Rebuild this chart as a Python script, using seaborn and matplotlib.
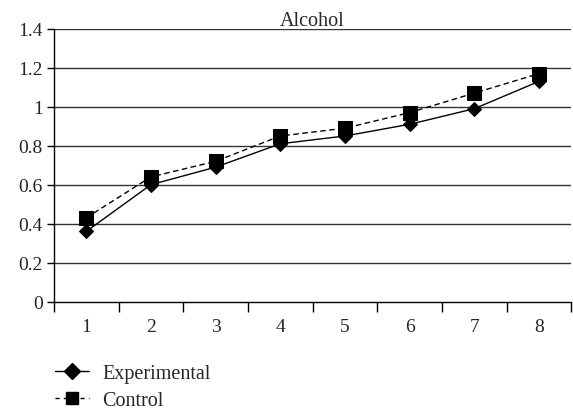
import numpy as np
import pandas as pd
import matplotlib
matplotlib.use('Agg')
import matplotlib.pyplot as plt
import seaborn as sns
from matplotlib.ticker import FixedLocator

# Data
periods = [1, 2, 3, 4, 5, 6, 7, 8]
experimental = [0.36, 0.60, 0.69, 0.81, 0.85, 0.91, 0.99, 1.13]
control = [0.43, 0.64, 0.72, 0.85, 0.89, 0.97, 1.07, 1.17]
series_names = ['Experimental', 'Control']
y_ticks = [0, 0.2, 0.4, 0.6, 0.8, 1, 1.2, 1.4]
y_tick_labels = ['0', '0.2', '0.4', '0.6', '0.8', '1', '1.2', '1.4']

df = pd.DataFrame({
    'period': periods * 2,
    'value': experimental + control,
    'group': [series_names[0]] * len(periods) + [series_names[1]] * len(periods),
})

sns.set_theme(style='white')
plt.rcParams['font.family'] = ['Liberation Serif', 'DejaVu Serif']

fig = plt.figure(figsize=(5.73, 4.14), dpi=100)
ax = fig.add_axes([0.094, 0.269, 0.903, 0.659])

# Grid lines first so the data sits on top
for yv in y_ticks[1:]:
    ax.axhline(yv, color='#333333', lw=1.0, zorder=1)

sns.lineplot(data=df, x='period', y='value', hue='group', style='group',
             palette=['black', 'black'],
             dashes={'Experimental': '', 'Control': (4, 2.5)},
             markers={'Experimental': 'D', 'Control': 's'},
             markersize=9, markeredgecolor='black', lw=1.0,
             ax=ax, legend=False, zorder=3)

for line in ax.get_lines():
    if line.get_marker() == 's':
        line.set_markersize(9.5)
    elif line.get_marker() == 'D':
        line.set_markersize(7.5)

ax.set_xlim(0.5, 8.5)
ax.set_ylim(0, 1.4)
ax.set_xlabel('')
ax.set_ylabel('')
ax.set_title('Alcohol', fontsize=14.5, pad=3)

ax.set_yticks(y_ticks)
ax.set_yticklabels(y_tick_labels)
ax.set_xticks(periods)
ax.set_xticklabels([str(p) for p in periods])
ax.xaxis.set_minor_locator(FixedLocator(np.arange(0.5, 9.0, 1.0)))
ax.tick_params(axis='x', which='major', length=0, pad=12, labelsize=14)
ax.tick_params(axis='x', which='minor', length=7, width=1, color='black', direction='out', bottom=True)
ax.tick_params(axis='y', length=5, width=1, color='black', direction='out', left=True, labelsize=14, pad=3)

for side in ['top', 'right']:
    ax.spines[side].set_visible(False)
for side in ['left', 'bottom']:
    ax.spines[side].set_color('black')
    ax.spines[side].set_linewidth(1.0)

# Legend below the plot
handles = [
    plt.Line2D([], [], color='black', lw=1.0, marker='D', markersize=8),
    plt.Line2D([], [], color='black', lw=1.0, ls=(0, (3, 3)), marker='s', markersize=9),
]
fig.legend(handles, series_names, loc='upper left', bbox_to_anchor=(0.096, 0.118),
           frameon=False, fontsize=14.5, handlelength=1.7, handletextpad=0.65,
           labelspacing=0.4, borderaxespad=0, borderpad=0)

fig.savefig('out.png', dpi=100)
